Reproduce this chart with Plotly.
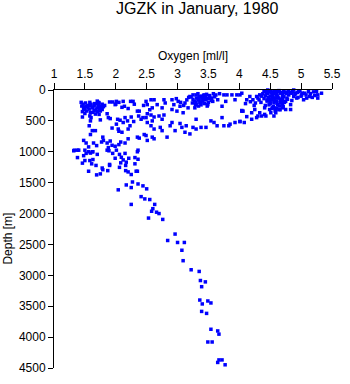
import plotly.graph_objects as go

# ---- data: oxygen [ml/l] and depth [m] readings ----
oxygen_deep = [2.04, 2.17, 2.27, 2.25, 2.36, 2.44, 2.50, 2.41, 2.47, 2.55, 2.25, 2.63, 2.60, 2.58, 2.66,
               2.70, 2.53, 2.76, 2.96, 2.84, 3.00, 3.11, 3.07, 3.09, 3.22, 3.35, 3.37, 3.45, 3.39, 3.36,
               3.49, 3.54, 3.40, 3.39, 3.47, 3.54, 3.65, 3.67, 3.49, 3.56, 3.67, 3.72, 3.65, 3.77]
depth_deep = [1616, 1537, 1489, 1579, 1521, 1552, 1600, 1726, 1763, 1773, 1852, 1852, 1921, 1963, 1978,
              2000, 2073, 2095, 2332, 2436, 2468, 2468, 2594, 2763, 2910, 2937, 3084, 3106, 3184, 3400,
              3415, 3447, 3463, 3584, 3616, 3873, 3900, 3952, 4079, 4079, 4369, 4369, 4410, 4448]

oxygen_mid = [1.32, 1.40, 1.50, 1.52, 1.48, 1.56, 1.59, 1.63, 1.70, 1.86, 1.89, 1.38, 1.50, 1.58, 1.63,
              1.46, 1.61, 1.68, 1.56, 1.69, 1.75, 1.79, 1.78, 1.87, 1.90, 1.90, 1.95, 1.99, 2.06, 2.15,
              2.09, 2.12, 2.08, 2.17, 2.21, 2.06, 2.16, 2.16, 2.20, 2.25, 2.31, 2.36, 2.35, 2.31, 2.33, 2.35]
depth_mid = [984, 974, 974, 1026, 1063, 1000, 1021, 1000, 1042, 974, 984, 1094, 1142, 1142, 1126,
             1184, 1195, 1221, 1315, 1374, 1358, 1290, 1263, 1305, 1221, 1205, 1026, 1105, 1042, 1026,
             1089, 1132, 1179, 1168, 1105, 1252, 1221, 1305, 1326, 1368, 1195, 1121, 1000, 1094, 1315, 1315]

oxygen_low = [1.48, 1.52, 1.59, 1.62, 1.67, 1.73, 1.75, 1.78, 1.65, 1.70, 1.73, 1.59, 1.46, 1.60, 1.59,
              1.75, 1.86, 1.88, 1.91, 1.90, 1.95, 2.01, 1.99, 2.12, 2.14, 2.24, 2.28, 2.20, 2.35, 2.38,
              2.37, 2.41, 2.44, 2.49, 2.49, 2.03, 2.07, 2.15, 2.12, 2.19, 2.25, 2.29, 2.01, 1.94, 2.04,
              2.05, 2.10, 2.20, 2.23, 2.35, 2.38, 2.46, 2.49, 1.57, 1.62, 1.67, 1.59, 1.48, 1.52, 1.56,
              1.64, 1.69, 1.77, 1.79, 1.80, 1.86, 1.91, 1.94, 1.99, 2.05, 2.08, 2.15, 2.20, 1.88, 1.33,
              1.38, 2.01, 2.36, 1.62,
              1.45, 1.50, 1.55, 1.60, 1.65, 1.70, 1.72, 1.78, 1.48, 1.53, 1.68, 1.75, 1.80,
              1.44, 1.47, 1.51, 1.55, 1.58, 1.62, 1.66, 1.70, 1.74, 1.77, 1.46, 1.50, 1.57, 1.63,
              1.67, 1.72, 1.82, 1.58, 2.00, 2.05, 2.10, 2.30, 2.45, 2.55]
depth_low = [279, 263, 248, 289, 226, 210, 263, 316, 332, 352, 395, 368, 437, 447, 500,
             484, 384, 447, 463, 194, 194, 184, 237, 184, 263, 184, 184, 300, 342, 342,
             421, 474, 447, 447, 184, 474, 489, 447, 526, 500, 437, 510, 553, 616, 632,
             668, 684, 632, 579, 763, 779, 721, 737, 579, 658, 658, 721, 816, 858, 921,
             858, 900, 842, 763, 816, 858, 826, 895, 911, 884, 842, 858, 790, 932, 974,
             974, 974, 974, 1000,
             260, 300, 280, 230, 260, 290, 250, 230, 320, 340, 320, 340, 270,
             200, 230, 210, 250, 200, 280, 220, 180, 310, 280, 350, 380, 310, 360,
             390, 200, 250, 420, 230, 200, 280, 230, 250, 320]

oxygen_center = [2.57, 2.62, 2.51, 2.59, 2.67, 2.75, 2.78, 2.80, 2.91, 2.94, 2.91, 3.01, 3.04, 2.99, 3.09,
                 3.12, 3.17, 3.20, 3.25, 3.30, 3.33, 3.35, 3.41, 3.43, 3.46, 3.51, 3.38, 3.30, 3.28, 3.49,
                 3.57, 3.65, 3.75, 3.80, 3.88, 3.96, 4.01, 3.93, 3.78, 3.72, 4.04, 2.51, 2.57, 2.62, 2.70,
                 2.78, 2.75, 2.59, 2.51, 2.57, 2.62, 2.72, 2.75, 2.88, 2.91, 3.04, 3.07, 3.14, 2.96, 3.12,
                 3.20, 3.25, 3.30, 3.38, 3.46, 3.30, 3.54, 3.59, 3.64, 3.72, 3.75, 3.83, 3.85, 3.93, 4.01,
                 4.06, 2.83, 2.59, 2.62, 2.51,
                 3.35, 3.40, 3.45, 3.50, 3.30, 3.38, 3.25, 3.55, 3.60, 3.42,
                 3.22, 3.27, 3.31, 3.33, 3.36, 3.39, 3.42, 3.44, 3.47, 3.50, 3.52, 3.55, 3.58, 3.29,
                 3.34, 3.24, 3.15, 3.10, 3.62, 3.68, 3.48, 3.40, 3.18, 3.05, 2.98]
depth_center = [158, 158, 237, 289, 237, 289, 158, 210, 158, 237, 316, 184, 263, 342, 368,
                210, 289, 105, 79, 79, 158, 105, 131, 79, 158, 105, 210, 237, 289, 237,
                184, 158, 79, 79, 79, 79, 79, 158, 184, 263, 332, 384, 405, 437, 421,
                405, 474, 500, 526, 579, 632, 605, 658, 579, 526, 542, 605, 579, 658, 684,
                711, 605, 632, 605, 605, 474, 500, 526, 579, 447, 579, 579, 553, 526, 510,
                342, 763, 763, 790, 816,
                150, 180, 120, 200, 200, 240, 150, 130, 110, 90,
                110, 180, 130, 60, 200, 100, 160, 220, 70, 140, 90, 170, 60, 240,
                260, 210, 160, 250, 80, 60, 260, 130, 120, 200, 140]

oxygen_surface = [4.04, 4.17, 4.12, 4.22, 4.28, 4.33, 4.41, 4.46, 4.51, 4.56, 4.62, 4.67, 4.54, 4.59, 4.64,
                  4.49, 4.56, 4.62, 4.67, 4.70, 4.75, 4.77, 4.54, 4.59, 4.64, 4.70, 4.49, 4.51, 4.59, 4.75,
                  4.83, 4.83, 4.41, 4.41, 4.33, 4.30, 4.25, 4.20, 4.12, 4.04, 4.01, 4.08, 4.20, 4.28, 4.36,
                  4.43, 4.56, 4.80, 4.88, 4.91, 4.96, 5.01, 5.06, 5.12, 5.09, 5.04, 4.93, 4.88, 5.25, 5.27,
                  5.33, 5.27, 5.14, 4.85, 4.72, 4.46, 4.70,
                  4.45, 4.50, 4.55, 4.60, 4.65, 4.70, 4.60, 4.65, 4.50, 4.45, 4.55, 4.70, 4.40, 4.35, 4.80,
                  4.75, 4.58, 4.50, 4.62, 4.52, 4.68, 4.42, 4.38, 4.30,
                  4.40, 4.44, 4.48, 4.52, 4.57, 4.60, 4.64, 4.68, 4.72, 4.76, 4.79, 4.82, 4.86, 4.90,
                  4.94, 4.98, 5.02, 5.08, 5.15, 5.20, 4.42, 4.47, 4.53, 4.57, 4.62, 4.67, 4.72, 4.78,
                  4.45, 4.50, 4.56, 4.61, 4.66, 4.73, 4.48, 4.53, 4.60, 4.66, 4.71, 4.36, 4.32, 4.26,
                  4.18, 4.24, 4.10, 4.95, 5.00, 5.18, 5.22, 4.85]
depth_surface = [52, 105, 158, 158, 105, 79, 26, 52, 26, 26, 26, 52, 105, 131, 131,
                 158, 210, 237, 210, 158, 184, 131, 289, 316, 316, 289, 316, 368, 368, 316,
                 237, 316, 289, 395, 368, 421, 316, 368, 431, 342, 510, 526, 474, 447, 421,
                 421, 421, 26, 0, 52, 26, 79, 52, 26, 131, 158, 131, 105, 26, 79,
                 52, 131, 105, 52, 26, 0, 105,
                 60, 100, 60, 80, 30, 70, 180, 260, 220, 180, 270, 230, 140, 200, 80,
                 40, 340, 30, 120, 150, 190, 250, 60, 130,
                 20, 45, 15, 45, 15, 50, 10, 40, 15, 60, 20, 45, 20, 70,
                 40, 15, 50, 80, 60, 30, 95, 120, 85, 130, 95, 150, 110, 150,
                 160, 190, 175, 210, 170, 200, 240, 300, 290, 320, 270, 100, 160, 210,
                 190, 250, 220, 120, 100, 120, 90, 170]

x_ticks = [1, 1.5, 2, 2.5, 3, 3.5, 4, 4.5, 5, 5.5]
x_tick_labels = ["1", "1.5", "2", "2.5", "3", "3.5", "4", "4.5", "5", "5.5"]
y_ticks = [0, 500, 1000, 1500, 2000, 2500, 3000, 3500, 4000, 4500]

oxygen = oxygen_surface + oxygen_center + oxygen_low + oxygen_mid + oxygen_deep
depth = depth_surface + depth_center + depth_low + depth_mid + depth_deep

FONT = "Liberation Sans, Arial, Helvetica, sans-serif"

fig = go.Figure()
fig.add_trace(go.Scatter(
    x=oxygen, y=depth, mode="markers",
    marker=dict(symbol="square", size=3.5, color="#0000ff", line=dict(width=0)),
    cliponaxis=False, showlegend=False,
))

fig.update_layout(
    width=350, height=384,
    margin=dict(l=54, r=10, t=90, b=9, pad=0),
    paper_bgcolor="white", plot_bgcolor="white",
    font=dict(family=FONT, size=12, color="black"),
    title=dict(text="JGZK in January, 1980", x=0.5635, xanchor="center", xref="container",
               y=1 - 8.5 / 384, yanchor="middle", yref="container",
               font=dict(family=FONT, size=16, color="black")),
    xaxis=dict(side="top", range=[1, 5.5], tickvals=x_ticks, ticktext=x_tick_labels,
               ticks="outside", ticklen=6, tickcolor="black", tickwidth=1,
               showline=True, linecolor="black", linewidth=1, mirror=False,
               showgrid=False, zeroline=False,
               tickfont=dict(family=FONT, size=12, color="black"),
               title=dict(text="Oxygen [ml/l]", standoff=4,
                          font=dict(family=FONT, size=12, color="black"))),
    yaxis=dict(range=[4500, 0], tickvals=y_ticks,
               ticks="outside", ticklen=5, tickcolor="black", tickwidth=1,
               showline=True, linecolor="black", linewidth=1, mirror=False,
               showgrid=False, zeroline=False,
               tickfont=dict(family=FONT, size=12, color="black")),
    annotations=[dict(text="Depth [m]", textangle=-90, xref="paper", yref="paper",
                      x=(7 - 54) / 286, y=(375 - 242) / 285, xanchor="center", yanchor="middle",
                      showarrow=False, font=dict(family=FONT, size=12, color="black"))],
)

fig.write_html("out.html")
